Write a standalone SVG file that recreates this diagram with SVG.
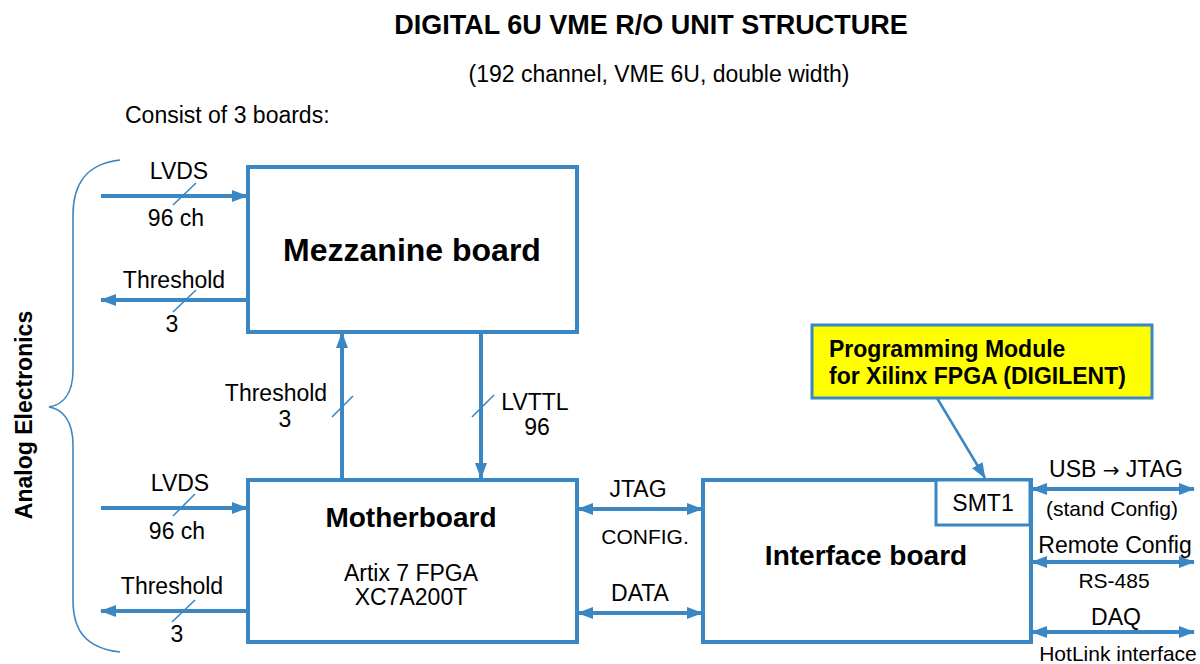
<svg xmlns="http://www.w3.org/2000/svg" width="1200" height="664" viewBox="0 0 1200 664">
<style>
text{font-family:"Liberation Sans",Arial,sans-serif;fill:#000}
.box{fill:#fff;stroke:#3a87c4;stroke-width:4}
.ln{stroke:#3a87c4;stroke-width:4;fill:none}
.sl{stroke:#3a87c4;stroke-width:1.6;fill:none}
.t18{font-size:23px;text-anchor:middle}
.t16{font-size:21px;text-anchor:middle}
.b{font-weight:bold;text-anchor:middle}
</style>
<defs>
<marker id="ah" viewBox="0 0 16 12" refX="15" refY="6" markerWidth="16" markerHeight="12" markerUnits="userSpaceOnUse" orient="auto-start-reverse">
<path d="M0,0 L16,6 L0,12 Z" fill="#3a87c4"/>
</marker>
</defs>
<rect width="1200" height="664" fill="#fff"/>
<text x="651" y="34" class="b" font-size="27">DIGITAL 6U VME R/O UNIT STRUCTURE</text>
<text x="659" y="82" class="t18">(192 channel, VME 6U, double width)</text>
<text x="125" y="123" font-size="23">Consist of 3 boards:</text>
<text transform="translate(32,415) rotate(-90)" class="b" font-size="23">Analog Electronics</text>
<path d="M120,160 C85,164 73,185 73,215 L73,370 C73,395 62,405 49,407 C62,409 73,420 73,445 L73,600 C73,630 85,648 120,652" fill="none" stroke="#3a87c4" stroke-width="1.6"/>
<g id="connectors">
<line x1="101" y1="196" x2="247" y2="196" class="ln" marker-end="url(#ah)"/>
<line x1="248" y1="300" x2="101" y2="300" class="ln" marker-end="url(#ah)"/>
<line x1="101" y1="508" x2="247" y2="508" class="ln" marker-end="url(#ah)"/>
<line x1="248" y1="611" x2="101" y2="611" class="ln" marker-end="url(#ah)"/>
<line x1="342" y1="478" x2="342" y2="333" class="ln" marker-end="url(#ah)"/>
<line x1="481" y1="333" x2="481" y2="478" class="ln" marker-end="url(#ah)"/>
<line x1="578" y1="509" x2="702" y2="509" class="ln" marker-start="url(#ah)" marker-end="url(#ah)"/>
<line x1="578" y1="613" x2="702" y2="613" class="ln" marker-start="url(#ah)" marker-end="url(#ah)"/>
<line x1="1032" y1="489" x2="1194" y2="489" class="ln" marker-start="url(#ah)" marker-end="url(#ah)"/>
<line x1="1032" y1="562" x2="1194" y2="562" class="ln" marker-start="url(#ah)" marker-end="url(#ah)"/>
<line x1="1032" y1="632" x2="1194" y2="632" class="ln" marker-start="url(#ah)" marker-end="url(#ah)"/>
<line x1="937" y1="398" x2="985" y2="478" stroke="#3a87c4" stroke-width="2.5" marker-end="url(#ah)"/>
<line x1="173" y1="205" x2="196" y2="183" class="sl"/>
<line x1="173" y1="312" x2="196" y2="290" class="sl"/>
<line x1="173" y1="516" x2="195" y2="494" class="sl"/>
<line x1="172" y1="622" x2="195" y2="600" class="sl"/>
<line x1="332" y1="417" x2="353" y2="396" class="sl"/>
<line x1="472" y1="417" x2="494" y2="395" class="sl"/>
<text x="179" y="179" class="t18">LVDS</text>
<text x="176" y="226" class="t18">96 ch</text>
<text x="174" y="288" class="t18">Threshold</text>
<text x="172" y="332" class="t18">3</text>
<text x="180" y="491" class="t18">LVDS</text>
<text x="177" y="539" class="t18">96 ch</text>
<text x="172" y="594" class="t18">Threshold</text>
<text x="177" y="642" class="t18">3</text>
<text x="276" y="401" class="t18">Threshold</text>
<text x="285" y="427" class="t18">3</text>
<text x="535" y="410" class="t18">LVTTL</text>
<text x="537" y="435" class="t18">96</text>
<text x="638" y="497" class="t18">JTAG</text>
<text x="645" y="544" class="t16">CONFIG.</text>
<text x="640" y="601" class="t18">DATA</text>
<text x="1116" y="477" class="t18">USB <tspan font-family="'DejaVu Sans',sans-serif" font-size="20">→</tspan> JTAG</text>
<text x="1112" y="516" class="t16">(stand Config)</text>
<text x="1115" y="553" class="t18">Remote Config</text>
<text x="1114" y="588" class="t16">RS-485</text>
<text x="1116" y="625" class="t18">DAQ</text>
<text x="1118" y="661" class="t16">HotLink interface</text>
</g>
<g id="mezzanine">
<rect x="248" y="167" width="329" height="165" class="box"/>
<text x="412" y="261" class="b" font-size="32">Mezzanine board</text>
</g>
<g id="motherboard">
<rect x="248" y="480" width="329" height="162" class="box"/>
<text x="411" y="527" class="b" font-size="28">Motherboard</text>
<text x="411" y="581" class="t18">Artix 7 FPGA</text>
<text x="411" y="605" class="t18">XC7A200T</text>
</g>
<g id="interface">
<rect x="703" y="480" width="328" height="162" class="box"/>
<text x="866" y="565" class="b" font-size="28">Interface board</text>
</g>
<g id="smt1">
<rect x="936" y="480" width="94" height="45" fill="#fff" stroke="#3a87c4" stroke-width="3"/>
<text x="983" y="511" class="t18">SMT1</text>
</g>
<g id="programming">
<rect x="812" y="325" width="340" height="73" fill="#ffff00" stroke="#3a87c4" stroke-width="3"/>
<text x="829" y="357" font-size="23" font-weight="bold">Programming Module</text>
<text x="829" y="384" font-size="23" font-weight="bold">for Xilinx FPGA (DIGILENT)</text>
</g>
</svg>
